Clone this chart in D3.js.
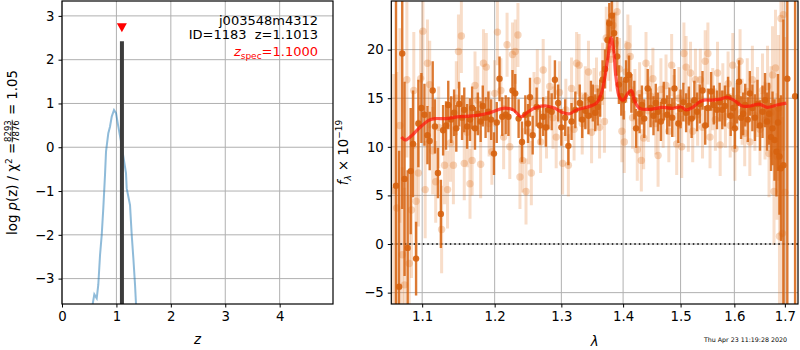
<!DOCTYPE html>
<html><head><meta charset="utf-8">
<script src="https://cdn.jsdelivr.net/npm/d3@7"></script>
<style>body{margin:0;background:#fff}svg{display:block}text{font-family:"DejaVu Sans",sans-serif}</style>
</head><body>
<script>
// ---------- data ----------
const pzZ   = [0.564,0.594,0.638,0.667,0.699,0.730,0.759,0.790,0.809,0.851,0.882,0.914,0.956,0.993,1.035,1.079,1.127,1.176,1.189,1.250,1.281,1.311,1.342,1.360];
const pzLog = [-3.58,-3.36,-3.45,-3.14,-2.46,-2.0,-1.39,-0.64,-0.10,0.32,0.47,0.70,0.85,0.78,0.47,0.17,-0.21,-0.59,-0.94,-1.32,-2.0,-2.53,-3.14,-3.58];
const zBest = 1.1013, zSpec = 1.1000, pzPeak = 2.42, markerY = 2.72;
const zTicks = [0,1,2,3,4];
const lpTicks = [-3,-2,-1,0,1,2,3];
const lamTicks = [1.1,1.2,1.3,1.4,1.5,1.6,1.7];
const fTicks = [-5,0,5,10,15,20];

const darkWave = [1.066,1.070,1.074,1.077,1.081,1.085,1.088,1.092,1.095,1.099,1.103,1.107,1.110,1.114,1.117,1.121,1.125,1.128,1.132,1.135,1.139,1.143,1.146,1.150,1.154,1.157,1.161,1.165,1.168,1.172,1.176,1.180,1.183,1.187,1.191,1.195,
1.199,1.203,1.207,1.211,1.216,1.220,1.226,1.230,1.235,1.240,1.245,1.249,1.252,1.256,1.262,1.267,1.272,1.276,1.280,1.285,1.290,1.295,1.300,1.306,1.311,1.316,1.322,1.329,1.333,1.338,1.343,1.347,1.350,1.354,
1.358,1.362,1.366,1.370,1.374,1.377,1.381,1.385,1.390,1.393,1.397,1.401,1.405,1.410,1.414,1.419,1.422,1.428,1.432,1.436,1.442,1.447,1.452,1.456,1.460,1.465,1.470,1.476,1.480,1.485,1.489,1.496,1.500,1.505,1.510,1.515,1.520,1.525,1.530,1.535,
1.540,1.545,1.550,1.556,1.561,1.567,1.572,1.577,1.582,1.588,1.593,1.598,1.601,1.605,1.609,1.613,1.617,1.621,1.626,1.630,1.635,1.640,1.645,1.650,1.655,1.660,1.664,1.668,1.672,1.675,1.679,1.683,1.686,1.689,1.692,1.697,1.705,1.721];
const darkFlux = [6.0,-4.4,19.6,6.7,-0.4,7.5,10.3,-1.5,12.4,14.0,13.3,11.2,10.6,15.8,12.1,7.3,3.1,11.7,12.2,14.3,12.8,13.5,11.9,14.4,13.0,13.8,12.1,12.8,14.0,11.9,13.4,12.6,14.2,13.0,13.6,12.8,
9.3,12.5,17.0,13.1,13.3,13.1,15.8,15.5,12.9,10.5,13.3,12.4,15.1,11.2,14.1,12.2,13.1,12.0,13.8,13.6,16.9,14.5,12.0,13.0,10.1,12.6,13.8,14.5,12.8,13.7,13.2,14.9,14.5,13.5,
14.1,15.0,16.9,18.0,21.0,22.7,23.5,21.7,19.3,16.4,15.2,14.8,16.9,17.4,15.5,14.8,11.9,13.4,14.3,12.9,16.0,14.0,13.2,14.5,13.6,12.6,14.7,13.3,14.1,13.0,16.0,12.4,13.9,14.6,13.5,14.2,12.9,14.8,13.6,14.4,
15.8,12.2,14.0,15.7,14.3,13.8,14.6,13.8,14.2,15.1,13.2,14.0,11.9,14.5,16.7,13.0,13.4,14.3,12.8,15.5,14.0,13.0,14.4,12.2,13.6,14.8,12.6,13.4,11.0,11.9,10.7,9.5,12.5,9.0,7.8,8.1,17.0,15.2];
const darkErr = [20,14,16,10,8,6.5,5.5,3.8,4.5,3.6,3.2,3.0,3.0,3.0,2.8,2.6,3.5,2.6,2.5,2.5,2.4,2.4,2.4,2.3,2.3,2.3,2.3,2.2,2.2,2.2,2.2,2.1,2.1,2.1,2.1,2.1,
2.2,2.1,2.3,2.0,2.0,2.0,2.1,2.0,2.0,2.1,2.0,2.0,2.0,2.0,2.0,2.0,2.0,2.0,2.0,1.9,2.0,1.9,1.9,1.9,2.0,1.9,1.9,1.9,1.9,1.9,1.9,1.9,1.9,1.9,
1.9,1.9,2.0,2.0,2.1,2.1,2.2,2.1,2.0,2.0,2.0,2.0,2.0,2.0,2.0,2.0,2.0,2.0,2.0,2.0,2.0,2.0,2.0,2.0,2.0,2.0,2.0,2.0,2.0,2.0,2.0,2.0,2.0,2.0,2.0,2.0,2.0,2.0,2.0,2.0,
2.0,2.0,2.0,2.0,2.0,2.0,2.0,2.0,2.1,2.1,2.1,2.1,2.1,2.1,2.2,2.2,2.2,2.2,2.3,2.3,2.4,2.4,2.5,2.6,2.7,2.8,3.0,3.2,3.5,3.8,4.2,4.6,5.0,6.0,7.5,15,30,30];

const lightWave = [1.063,1.067,1.071,1.074,1.077,1.080,1.083,1.086,1.089,1.092,1.095,1.098,1.101,1.104,1.107,1.110,1.114,1.118,1.122,1.126,1.130,1.134,1.138,1.142,1.146,1.149,1.153,1.157,1.161,1.165,1.168,1.172,1.176,1.180,1.184,1.188,1.192,1.196,
1.200,1.204,1.209,1.213,1.218,1.222,1.226,1.230,1.234,1.237,1.241,1.246,1.250,1.254,1.258,1.263,1.268,1.272,1.277,1.282,1.287,1.292,1.297,1.302,1.307,1.311,1.316,1.320,1.324,1.328,1.333,1.338,1.343,1.348,1.352,
1.356,1.361,1.366,1.369,1.372,1.376,1.379,1.383,1.387,1.390,1.394,1.398,1.402,1.405,1.408,1.412,1.416,1.420,1.424,1.428,1.431,1.435,1.439,1.443,1.447,1.451,1.456,1.460,1.465,1.469,1.474,1.479,1.484,1.488,1.493,1.497,1.502,1.506,1.510,1.514,1.518,1.522,1.527,1.531,
1.536,1.540,1.545,1.550,1.554,1.559,1.564,1.568,1.573,1.578,1.583,1.588,1.592,1.597,1.601,1.606,1.611,1.615,1.620,1.625,1.630,1.635,1.640,1.645,1.650,1.655,1.660,1.665,1.668,1.672,1.675,1.678,1.681,1.684,1.687,1.689,1.692,1.695,1.697,1.700];
const lightFlux = [5.5,3.7,12.2,-1.1,-4.2,16.9,-2.0,3.5,15.8,4.4,7.3,17.0,21.9,5.6,18.6,16.4,9.6,6.4,12.0,1.5,8.1,5.6,10.4,8.1,15.0,19.8,21.4,8.3,11.5,6.2,8.6,16.3,14.8,8.2,18.6,18.2,12.4,9.5,
15.5,21.8,15.8,11.0,20.5,10.0,19.5,19.8,21.5,6.9,8.6,5.4,11.5,7.3,14.5,16.8,10.5,17.9,12.0,16.2,13.0,11.0,15.6,8.3,13.8,8.1,16.0,11.8,18.6,18.4,12.4,15.1,17.7,11.5,14.9,
16.0,12.0,17.5,12.6,21.2,20.0,19.0,22.5,20.6,23.9,18.0,11.6,10.5,17.7,20.4,19.3,13.0,14.8,9.7,15.5,8.6,10.9,18.6,13.7,15.2,17.0,12.4,9.1,15.9,13.1,16.3,11.6,18.4,14.2,10.3,15.0,10.0,19.6,18.2,12.7,17.6,11.6,16.9,13.3,
16.9,12.0,18.8,19.6,11.0,14.9,12.8,17.6,10.2,15.4,13.1,16.5,12.2,18.4,9.8,15.0,18.8,13.6,11.4,15.7,10.5,16.9,13.2,14.6,11.8,15.8,12.7,16.2,9.3,13.5,17.4,5.4,18.1,9.0,14.0,0.8,23.2,1.1,23.6,5.3];
const lightErr = [12,14,10,9,10,8,7,7,6,6,5.5,5,5,5,4.5,4.5,4.5,4.2,4.2,4.5,4.0,4.0,4.0,4.0,3.8,3.8,3.8,3.8,3.6,3.6,3.6,3.5,3.5,3.5,3.5,3.5,3.4,3.4,
3.4,3.4,3.3,3.3,3.3,3.3,3.3,3.3,3.3,3.3,3.3,3.4,3.3,3.3,3.2,3.2,3.2,3.2,3.2,3.2,3.2,3.2,3.2,3.2,3.2,3.2,3.2,3.2,3.2,3.2,3.2,3.2,3.2,3.2,3.2,
3.2,3.2,3.2,3.2,3.2,3.2,3.3,3.3,3.3,3.3,3.2,3.2,3.2,3.2,3.2,3.2,3.2,3.2,3.2,3.2,3.2,3.2,3.2,3.2,3.2,3.2,3.2,3.2,3.2,3.2,3.2,3.2,3.2,3.2,3.2,3.2,3.2,3.2,3.2,3.2,3.2,3.2,3.2,3.2,
3.2,3.2,3.2,3.2,3.2,3.2,3.2,3.2,3.2,3.2,3.2,3.3,3.3,3.3,3.3,3.3,3.3,3.4,3.4,3.4,3.5,3.5,3.6,3.6,3.7,3.8,4.0,4.2,4.5,4.8,5.0,5.5,6.0,6.5,7.5,9,10,12,14,16];

const modelWave = [1.073,1.078,1.087,1.093,1.100,1.108,1.117,1.131,1.151,1.172,1.193,1.212,1.227,1.239,1.249,1.262,1.277,1.290,1.303,1.313,1.324,1.340,1.356,1.364,1.369,1.375,1.380,1.384,1.388,1.394,1.400,1.408,1.414,1.419,1.428,1.445,1.468,1.486,1.501,1.510,1.522,1.534,1.543,1.558,1.573,1.586,1.599,1.615,1.631,1.648,1.664,1.684,1.703];
const modelFlux = [11.0,10.7,11.2,11.7,12.2,12.7,12.9,12.9,13.1,13.2,13.5,13.96,13.8,13.1,13.6,14.06,14.2,13.96,13.5,13.4,13.8,14.06,14.5,15.5,16.9,19.3,21.2,20.0,17.2,15.1,14.8,15.5,15.8,14.8,13.96,13.86,14.06,13.96,14.1,13.8,14.06,14.6,14.8,14.8,14.9,15.1,14.8,14.2,14.2,14.4,14.06,14.3,14.5];

const fieldName = "j003548m4312", objId = 1183;
const stamp = "Thu Apr 23 11:19:28 2020";

// ---------- drawing ----------
const svg = d3.select("body").append("svg").attr("width",800).attr("height",350);
const FONT = 13.3;
const gridC = "#b0b0b0";
const darkC = "rgb(214,98,14)";
const lightC = "rgb(226,120,40)";

// Left panel
const L = {x0:62,x1:333,y0:1,y1:304};
const xz = d3.scaleLinear().domain([0,4.98]).range([L.x0,L.x1]);
const ylp = d3.scaleLinear().domain([-3.58,3.34]).range([L.y1,L.y0]);

const defs = svg.append("defs");
defs.append("clipPath").attr("id","clipL").append("rect").attr("x",L.x0).attr("y",L.y0).attr("width",L.x1-L.x0).attr("height",L.y1-L.y0);

const gL = svg.append("g");
gL.selectAll("line.gx").data(zTicks).join("line").attr("x1",d=>xz(d)).attr("x2",d=>xz(d)).attr("y1",L.y0).attr("y2",L.y1).attr("stroke",gridC).attr("stroke-width",1);
gL.selectAll("line.gy").data(lpTicks).join("line").attr("y1",d=>ylp(d)).attr("y2",d=>ylp(d)).attr("x1",L.x0).attr("x2",L.x1).attr("stroke",gridC).attr("stroke-width",1);

const cL = gL.append("g").attr("clip-path","url(#clipL)");
cL.append("path").datum(pzZ.map((z,i)=>[z,pzLog[i]]))
  .attr("d",d3.line().x(d=>xz(d[0])).y(d=>ylp(d[1])))
  .attr("fill","none").attr("stroke","#1f77b4").attr("stroke-opacity",0.5).attr("stroke-width",2);
cL.append("line").attr("x1",xz(zBest)).attr("x2",xz(zBest)).attr("y1",ylp(-3.58)).attr("y2",ylp(pzPeak))
  .attr("stroke","#3c3c3c").attr("stroke-width",4);
const tx = xz(zSpec), ty = ylp(markerY);
gL.append("path").attr("d",`M${tx-5},${ty-5}L${tx+5},${ty-5}L${tx},${ty+4}Z`).attr("fill","red");

const axL = d3.axisBottom(xz).tickValues(zTicks).tickFormat(d3.format("d")).tickSize(3.5).tickPadding(4);
const gxL = gL.append("g").attr("transform",`translate(0,${L.y1})`).call(axL);
const ayL = d3.axisLeft(ylp).tickValues(lpTicks).tickFormat(d=>d<0?"\u2212"+Math.abs(d):d).tickSize(3.5).tickPadding(4);
const gyL = gL.append("g").attr("transform",`translate(${L.x0},0)`).call(ayL);
[gxL,gyL].forEach(g=>{g.select(".domain").remove();g.selectAll("text").attr("font-size",FONT).attr("font-family","DejaVu Sans").attr("fill","#000");g.selectAll("line").attr("stroke","#000");});
gL.append("rect").attr("x",L.x0).attr("y",L.y0).attr("width",L.x1-L.x0).attr("height",L.y1-L.y0).attr("fill","none").attr("stroke","#000").attr("stroke-width",1.2);

gL.append("text").attr("x",318).attr("y",25).attr("text-anchor","end").attr("font-size",13).text(fieldName);
gL.append("text").attr("x",318).attr("y",39).attr("text-anchor","end").attr("font-size",13).attr("xml:space","preserve").text(`ID=${objId}  z=${zBest.toFixed(4)}`);
const zs = gL.append("text").attr("x",318).attr("y",56).attr("text-anchor","end").attr("font-size",13).attr("fill","red");
zs.append("tspan").attr("font-style","italic").text("z");
zs.append("tspan").attr("font-size",9).attr("dy",3).text("spec");
zs.append("tspan").attr("dy",-3).text("="+zSpec.toFixed(4));

gL.append("text").attr("x",xz(2.49)).attr("y",344).attr("text-anchor","middle").attr("font-size",FONT).attr("font-style","italic").text("z");

const yl = svg.append("g").attr("transform","translate(16.5,152.5) rotate(-90)");
const t1 = yl.append("text").attr("font-size",FONT).attr("y",0);
t1.append("tspan").text("log ");
t1.append("tspan").attr("font-style","italic").text("p");
t1.append("tspan").text("(z) / \u03c7");
t1.append("tspan").attr("font-size",9).attr("dy",-5).text("2");
t1.append("tspan").attr("dy",5).text(" = ");
const num = yl.append("text").attr("font-size",8.5).attr("y",-6).text("8293");
const den = yl.append("text").attr("font-size",8.5).attr("y",2.5).text("7876");
const t3 = yl.append("text").attr("font-size",FONT).attr("y",0).attr("xml:space","preserve").text(" = 1.05");
const w1 = t1.node().getComputedTextLength(), wn = Math.max(num.node().getComputedTextLength(),den.node().getComputedTextLength()), w3 = t3.node().getComputedTextLength();
const tot = w1+wn+2+w3, s0 = -tot/2;
t1.attr("x",s0); num.attr("x",s0+w1+1); den.attr("x",s0+w1+1); t3.attr("x",s0+w1+wn+2);
yl.append("line").attr("x1",s0+w1+0.5).attr("x2",s0+w1+wn+1.5).attr("y1",-4.3).attr("y2",-4.3).attr("stroke","#000").attr("stroke-width",0.7);

// Right panel
const R = {x0:391.3,x1:798,y0:1,y1:304};
const xl = d3.scaleLog().domain([1.06,1.727]).range([R.x0,R.x1]);
const yf = d3.scaleLinear().domain([-6.17,25]).range([R.y1,R.y0]);
defs.append("clipPath").attr("id","clipR").append("rect").attr("x",R.x0).attr("y",R.y0).attr("width",R.x1-R.x0).attr("height",R.y1-R.y0);

const gR = svg.append("g");
gR.selectAll("line.gx").data(lamTicks).join("line").attr("x1",d=>xl(d)).attr("x2",d=>xl(d)).attr("y1",R.y0).attr("y2",R.y1).attr("stroke",gridC).attr("stroke-width",1);
gR.selectAll("line.gy").data(fTicks).join("line").attr("y1",d=>yf(d)).attr("y2",d=>yf(d)).attr("x1",R.x0).attr("x2",R.x1).attr("stroke",gridC).attr("stroke-width",1);

const cR = gR.append("g").attr("clip-path","url(#clipR)");
const light = lightWave.map((w,i)=>({w,f:lightFlux[i],e:lightErr[i]}));
const dark = darkWave.map((w,i)=>({w,f:darkFlux[i],e:darkErr[i]}));

const gLight = cR.append("g");
gLight.selectAll("line").data(light).join("line")
  .attr("x1",d=>xl(d.w)).attr("x2",d=>xl(d.w)).attr("y1",d=>yf(d.f-d.e)).attr("y2",d=>yf(d.f+d.e))
  .attr("stroke",lightC).attr("stroke-opacity",0.25).attr("stroke-width",3);
gLight.selectAll("circle").data(light).join("circle")
  .attr("cx",d=>xl(d.w)).attr("cy",d=>yf(d.f)).attr("r",3.7)
  .attr("fill",lightC).attr("fill-opacity",0.3);

cR.append("line").attr("x1",R.x0).attr("x2",R.x1).attr("y1",yf(0)).attr("y2",yf(0))
  .attr("stroke","#000").attr("stroke-width",1.5).attr("stroke-dasharray","1.5,3");

const gDark = cR.append("g");
gDark.selectAll("line").data(dark).join("line")
  .attr("x1",d=>xl(d.w)).attr("x2",d=>xl(d.w)).attr("y1",d=>yf(d.f-d.e)).attr("y2",d=>yf(d.f+d.e))
  .attr("stroke",darkC).attr("stroke-opacity",0.85).attr("stroke-width",2.4);
gDark.selectAll("circle").data(dark).join("circle")
  .attr("cx",d=>xl(d.w)).attr("cy",d=>yf(d.f)).attr("r",3.2)
  .attr("fill",darkC).attr("fill-opacity",0.9);

cR.append("path").datum(modelWave.map((w,i)=>[w,modelFlux[i]]))
  .attr("d",d3.line().x(d=>xl(d[0])).y(d=>yf(d[1])).curve(d3.curveCatmullRom))
  .attr("fill","none").attr("stroke","rgb(255,20,10)").attr("stroke-opacity",0.7).attr("stroke-width",3.2);

const axR = d3.axisBottom(xl).tickValues(lamTicks).tickFormat(d3.format(".1f")).tickSize(3.5).tickPadding(4);
const gxR = gR.append("g").attr("transform",`translate(0,${R.y1})`).call(axR);
const ayR = d3.axisLeft(yf).tickValues(fTicks).tickFormat(d=>d<0?"\u2212"+Math.abs(d):d).tickSize(3.5).tickPadding(4);
const gyR = gR.append("g").attr("transform",`translate(${R.x0},0)`).call(ayR);
[gxR,gyR].forEach(g=>{g.select(".domain").remove();g.selectAll("text").attr("font-size",FONT).attr("font-family","DejaVu Sans").attr("fill","#000");g.selectAll("line").attr("stroke","#000");});
gR.append("rect").attr("x",R.x0).attr("y",R.y0).attr("width",R.x1-R.x0).attr("height",R.y1-R.y0).attr("fill","none").attr("stroke","#000").attr("stroke-width",1.2);

gR.append("text").attr("x",(R.x0+R.x1)/2).attr("y",346).attr("text-anchor","middle").attr("font-size",FONT).attr("font-style","italic").text("\u03bb");

const yr = svg.append("text").attr("transform","translate(348,152.5) rotate(-90)").attr("text-anchor","middle").attr("font-size",FONT);
yr.append("tspan").attr("font-style","italic").text("f");
yr.append("tspan").attr("font-style","italic").attr("font-size",9).attr("dy",3).text("\u03bb");
yr.append("tspan").attr("dy",-3).text(" \u00d7 10");
yr.append("tspan").attr("font-size",9).attr("dy",-6).text("\u221219");

svg.append("text").attr("x",787).attr("y",342).attr("text-anchor","end").attr("font-size",6.3).text(stamp);
</script>
</body></html>
